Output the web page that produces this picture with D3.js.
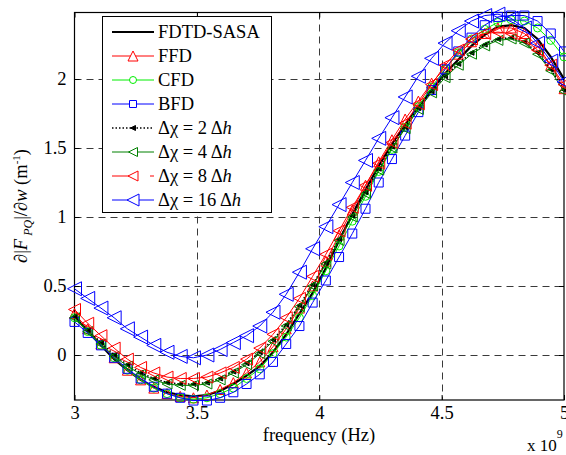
<!DOCTYPE html>
<html>
<head>
<meta charset="utf-8">
<script src="https://cdn.jsdelivr.net/npm/d3@7"></script>
<style>
  body { margin: 0; background: #fff; }
  text { font-family: "Liberation Serif", "Times New Roman", serif; }
</style>
</head>
<body>
<div id="chart"></div>
<script>

// frequency in units of 1e9 Hz
var freq = [3.000, 3.054, 3.108, 3.162, 3.216, 3.270, 3.324, 3.378, 3.432, 3.486,
            3.541, 3.595, 3.649, 3.703, 3.757, 3.811, 3.865, 3.919, 3.973, 4.027,
            4.081, 4.135, 4.189, 4.243, 4.297, 4.351, 4.405, 4.459, 4.514, 4.568,
            4.622, 4.676, 4.730, 4.784, 4.838, 4.892, 4.946, 5.000];

var fdtdSasa = [0.28, 0.17, 0.07, -0.03, -0.11, -0.18, -0.23, -0.27, -0.29, -0.30,
                -0.29, -0.26, -0.21, -0.15, -0.08, 0.02, 0.15, 0.30, 0.45, 0.63,
                0.83, 1.02, 1.20, 1.37, 1.53, 1.67, 1.80, 1.92, 2.04, 2.14,
                2.24, 2.32, 2.38, 2.39, 2.37, 2.29, 2.16, 2.00];

var ffd = [0.30, 0.19, 0.08, -0.02, -0.11, -0.18, -0.24, -0.28, -0.30, -0.31,
           -0.29, -0.25, -0.20, -0.13, -0.05, 0.06, 0.19, 0.34, 0.50, 0.68,
           0.87, 1.05, 1.23, 1.40, 1.56, 1.71, 1.84, 1.97, 2.08, 2.18,
           2.27, 2.33, 2.37, 2.37, 2.33, 2.24, 2.10, 1.93];

var cfd = [0.27, 0.17, 0.07, -0.02, -0.11, -0.18, -0.24, -0.28, -0.31, -0.32,
           -0.31, -0.28, -0.24, -0.17, -0.10, 0.01, 0.13, 0.27, 0.43, 0.61,
           0.79, 0.97, 1.15, 1.33, 1.49, 1.65, 1.80, 1.94, 2.07, 2.19,
           2.29, 2.36, 2.41, 2.43, 2.42, 2.37, 2.28, 2.16];

var bfd = [0.24, 0.16, 0.07, -0.02, -0.10, -0.17, -0.23, -0.28, -0.31, -0.33,
           -0.33, -0.31, -0.27, -0.21, -0.14, -0.05, 0.08, 0.21, 0.38, 0.54,
           0.71, 0.88, 1.06, 1.25, 1.42, 1.59, 1.76, 1.92, 2.07, 2.20,
           2.30, 2.39, 2.45, 2.46, 2.46, 2.42, 2.33, 2.20];

var dx2 = [0.28, 0.18, 0.09, 0.00, -0.07, -0.13, -0.17, -0.20, -0.21, -0.21,
           -0.20, -0.17, -0.12, -0.06, 0.02, 0.11, 0.22, 0.36, 0.51, 0.67,
           0.84, 1.01, 1.18, 1.35, 1.51, 1.65, 1.79, 1.91, 2.02, 2.11,
           2.19, 2.25, 2.29, 2.30, 2.27, 2.19, 2.07, 1.92];

var dx4 = [0.27, 0.17, 0.08, -0.01, -0.08, -0.14, -0.18, -0.21, -0.22, -0.22,
           -0.21, -0.18, -0.13, -0.07, 0.01, 0.10, 0.21, 0.35, 0.50, 0.66,
           0.83, 1.00, 1.17, 1.34, 1.50, 1.64, 1.78, 1.90, 2.01, 2.10,
           2.18, 2.24, 2.28, 2.29, 2.26, 2.18, 2.06, 1.91];

var dx8 = [0.33, 0.23, 0.14, 0.05, -0.03, -0.09, -0.13, -0.16, -0.17, -0.17,
           -0.16, -0.13, -0.09, -0.03, 0.05, 0.15, 0.27, 0.41, 0.57, 0.73,
           0.90, 1.07, 1.23, 1.39, 1.54, 1.68, 1.82, 1.96, 2.10, 2.21,
           2.29, 2.33, 2.34, 2.33, 2.29, 2.21, 2.10, 1.96];

var dx16 = [0.48, 0.41, 0.34, 0.27, 0.19, 0.13, 0.07, 0.02, -0.01, -0.02,
            0.00, 0.04, 0.09, 0.14, 0.21, 0.31, 0.44, 0.60, 0.77, 0.93,
            1.09, 1.25, 1.41, 1.57, 1.72, 1.87, 2.02, 2.15, 2.26, 2.35,
            2.42, 2.46, 2.47, 2.44, 2.37, 2.26, 2.13, 1.98];

var xTicks = [3, 3.5, 4, 4.5, 5];
var yTicks = [0, 0.5, 1, 1.5, 2];

var width = 566, height = 455;
var plotLeft = 74.5, plotRight = 564, plotTop = 12.5, plotBottom = 400;
var fontSize = 18.5;

var x = d3.scaleLinear().domain([3, 5]).range([plotLeft, plotRight]);
var y = d3.scaleLinear().domain([-0.326, 2.482]).range([plotBottom, plotTop]);

var svg = d3.select("#chart").append("svg")
    .attr("width", width)
    .attr("height", height);

svg.append("rect")
    .attr("width", width)
    .attr("height", height)
    .attr("fill", "#fff");

// grid
var grid = svg.append("g");
grid.selectAll(".vgrid").data(xTicks.slice(1, -1)).enter().append("line")
    .attr("x1", function(d) { return Math.round(x(d)) + 0.5; })
    .attr("x2", function(d) { return Math.round(x(d)) + 0.5; })
    .attr("y1", plotTop).attr("y2", plotBottom)
    .attr("stroke", "#3a3a3a").attr("stroke-width", 1)
    .attr("stroke-dasharray", "7,5");
grid.selectAll(".hgrid").data(yTicks).enter().append("line")
    .attr("y1", function(d) { return Math.round(y(d)) + 0.5; })
    .attr("y2", function(d) { return Math.round(y(d)) + 0.5; })
    .attr("x1", plotLeft).attr("x2", plotRight)
    .attr("stroke", "#3a3a3a").attr("stroke-width", 1)
    .attr("stroke-dasharray", "7,5");

// axes (MATLAB style: inward ticks, box)
var xAxis = d3.axisBottom(x).tickValues(xTicks).tickSize(-5).tickPadding(6)
    .tickFormat(d3.format(""));
var xAxisTop = d3.axisTop(x).tickValues(xTicks).tickSize(-5).tickFormat("");
var yAxis = d3.axisLeft(y).tickValues(yTicks).tickSize(-5).tickPadding(8)
    .tickFormat(d3.format(""));
var yAxisRight = d3.axisRight(y).tickValues(yTicks).tickSize(-5).tickFormat("");

function styleAxis(g) {
  g.select(".domain").remove();
  g.selectAll("line").attr("stroke", "#000");
  g.selectAll("text").attr("font-size", fontSize).attr("fill", "#000")
    .attr("font-family", "Liberation Serif");
}

svg.append("g").attr("transform", "translate(0," + plotBottom + ")").call(xAxis).call(styleAxis);
svg.append("g").attr("transform", "translate(0," + plotTop + ")").call(xAxisTop).call(styleAxis);
svg.append("g").attr("transform", "translate(" + plotLeft + ",0)").call(yAxis).call(styleAxis);
svg.append("g").attr("transform", "translate(" + plotRight + ",0)").call(yAxisRight).call(styleAxis);

svg.append("rect")
    .attr("x", plotLeft).attr("y", plotTop)
    .attr("width", plotRight - plotLeft).attr("height", plotBottom - plotTop)
    .attr("fill", "none").attr("stroke", "#000").attr("stroke-width", 1.2);

// marker shapes
function markerPath(type, s) {
  var h = s / 2;
  if (type == "tri-up") return "M0," + (-h) + "L" + h + "," + h + "L" + (-h) + "," + h + "Z";
  if (type == "tri-left") return "M" + (-h) + ",0L" + h + "," + (-h) + "L" + h + "," + h + "Z";
  if (type == "square") return "M" + (-h) + "," + (-h) + "H" + h + "V" + h + "H" + (-h) + "Z";
  if (type == "circle") return "M" + h + ",0A" + h + "," + h + " 0 1,1 " + (-h) + ",0A" + h + "," + h + " 0 1,1 " + h + ",0Z";
  return "";
}

var series = [
  {name: "FDTD-SASA", values: fdtdSasa, color: "#000", width: 2.2, dash: null, marker: null},
  {name: "FFD", values: ffd, color: "#ff0000", width: 1, dash: null, marker: "tri-up", size: 10, fill: "none"},
  {name: "CFD", values: cfd, color: "#00ee00", width: 1, dash: null, marker: "circle", size: 8, fill: "none"},
  {name: "BFD", values: bfd, color: "#0000ff", width: 1, dash: null, marker: "square", size: 9, fill: "none"},
  {name: "dx2", values: dx2, color: "#000", width: 1.6, dash: "1.5,2", marker: "tri-left", size: 5, fill: "#000"},
  {name: "dx4", values: dx4, color: "#008000", width: 1, dash: null, marker: "tri-left", size: 10, fill: "none"},
  {name: "dx8", values: dx8, color: "#ff0000", width: 1, dash: null, marker: "tri-left", size: 12, fill: "none"},
  {name: "dx16", values: dx16, color: "#0000ff", width: 1, dash: null, marker: "tri-left", size: 14, fill: "none"}
];

var line = d3.line()
    .x(function(d, i) { return x(freq[i]); })
    .y(function(d) { return y(d); });

var plot = svg.append("g");
series.forEach(function(s) {
  var g = plot.append("g");
  g.append("path")
      .attr("d", line(s.values))
      .attr("fill", "none")
      .attr("stroke", s.color)
      .attr("stroke-width", s.width)
      .attr("stroke-dasharray", s.dash);
  if (s.marker) {
    g.selectAll("path.m").data(s.values).enter().append("path")
        .attr("class", "m")
        .attr("d", markerPath(s.marker, s.size))
        .attr("transform", function(d, i) { return "translate(" + x(freq[i]) + "," + y(d) + ")"; })
        .attr("fill", s.fill)
        .attr("stroke", s.color)
        .attr("stroke-width", 1);
  }
});

// legend
var legend = svg.append("g");
legend.append("rect")
    .attr("x", 102.5).attr("y", 16.5)
    .attr("width", 169).attr("height", 196)
    .attr("fill", "#fff").attr("stroke", "#000").attr("stroke-width", 1);

var legendLabels = [
  ["FDTD-SASA"], ["FFD"], ["CFD"], ["BFD"],
  ["\u0394\u03c7 = 2 \u0394", "h"], ["\u0394\u03c7 = 4 \u0394", "h"],
  ["\u0394\u03c7 = 8 \u0394", "h"], ["\u0394\u03c7 = 16 \u0394", "h"]
];
var legendSizes = [0, 10, 7, 7, 5, 9, 10, 12];

series.forEach(function(s, i) {
  var ly = 32 + i * 24;
  var row = legend.append("g");
  if (i == 6) {
    // this row's line sample is partly broken in the original
    row.append("line").attr("x1", 112).attr("x2", 129).attr("y1", ly).attr("y2", ly)
        .attr("stroke", s.color).attr("stroke-width", s.width);
    row.append("line").attr("x1", 150).attr("x2", 154).attr("y1", ly).attr("y2", ly)
        .attr("stroke", s.color).attr("stroke-width", s.width);
  } else {
    row.append("line").attr("x1", 112).attr("x2", 154).attr("y1", ly).attr("y2", ly)
        .attr("stroke", s.color).attr("stroke-width", s.width)
        .attr("stroke-dasharray", s.dash);
  }
  if (s.marker) {
    row.append("path")
        .attr("d", markerPath(s.marker, legendSizes[i]))
        .attr("transform", "translate(133," + ly + ")")
        .attr("fill", s.fill == "none" ? "#fff" : s.fill)
        .attr("stroke", s.color);
  }
  var t = row.append("text").attr("x", 158).attr("y", ly + 6)
      .attr("font-size", fontSize).attr("fill", "#000");
  t.append("tspan").text(legendLabels[i][0]);
  if (legendLabels[i][1]) t.append("tspan").attr("font-style", "italic").text(legendLabels[i][1]);
});

// x label and exponent
svg.append("text")
    .attr("x", 319).attr("y", 441)
    .attr("text-anchor", "middle")
    .attr("font-size", fontSize)
    .text("frequency (Hz)");

var expo = svg.append("text").attr("x", 527).attr("y", 451).attr("font-size", 17);
expo.append("tspan").text("x 10");
expo.append("tspan").attr("dy", -13).attr("font-size", 12).text("9");

// y label
var yl = svg.append("text")
    .attr("transform", "translate(27,206) rotate(-90)")
    .attr("text-anchor", "middle")
    .attr("font-size", fontSize);
yl.append("tspan").text("\u2202|");
yl.append("tspan").attr("font-style", "italic").text("F");
yl.append("tspan").attr("font-style", "italic").attr("font-size", 12).attr("dy", 5).text(" PQ");
yl.append("tspan").attr("dy", -5).text("|/\u2202");
yl.append("tspan").attr("font-style", "italic").text("w");
yl.append("tspan").text(" (m");
yl.append("tspan").attr("font-size", 11).attr("dy", -7).text("-1");
yl.append("tspan").attr("dy", 7).text(")");

</script>
</body>
</html>
